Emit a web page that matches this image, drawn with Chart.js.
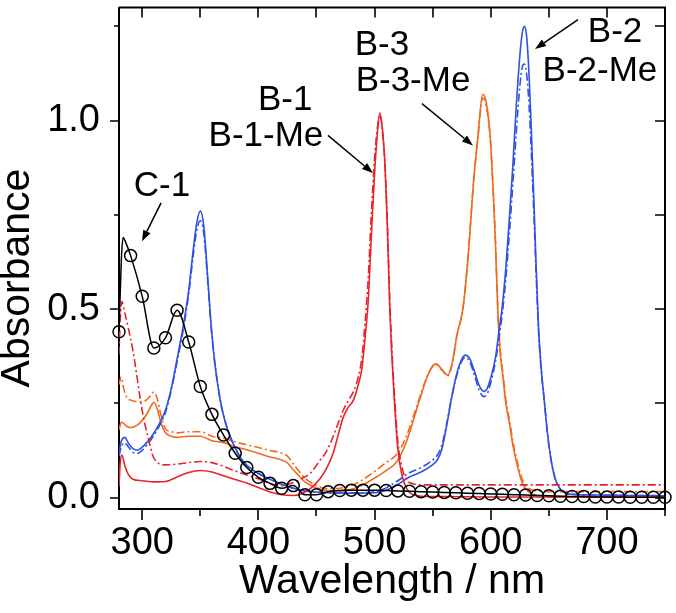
<!DOCTYPE html>
<html>
<head>
<meta charset="utf-8">
<script src="https://cdn.jsdelivr.net/npm/chart.js@4/dist/chart.umd.min.js"></script>
<style>
  html, body { margin: 0; padding: 0; background: #fff; }
  #c { display: block; }
</style>
</head>
<body>
<canvas id="c" width="676" height="613"></canvas>
<script>
"use strict";

// C-1 (open circles every 10 nm)
const wlC1 = [280, 282, 283.5, 286, 290, 300, 310, 320, 330, 340,
  350, 360, 370, 380, 390, 400, 410, 420, 430, 440,
  450, 460, 470, 480, 490, 500, 510, 520, 530, 540,
  550, 560, 570, 580, 590, 600, 610, 620, 630, 640,
  650, 660, 670, 680, 690, 700, 710, 720, 730, 740, 750];
const absC1 = [0.44, 0.63, 0.69, 0.675, 0.642, 0.534, 0.397, 0.424, 0.497, 0.413,
  0.295, 0.221, 0.166, 0.118, 0.08, 0.054, 0.038, 0.025, 0.032, 0.008,
  0.008, 0.016, 0.019, 0.02, 0.02, 0.02, 0.019, 0.018, 0.017, 0.016,
  0.015, 0.014, 0.013, 0.012, 0.011, 0.010, 0.009, 0.008, 0.007, 0.006,
  0.005, 0.004, 0.003, 0.003, 0.002, 0.002, 0.002, 0.001, 0.001, 0.001, 0.001];

// B-1 / B-1-Me (red)
const wlB1 = [280, 281, 282.5, 285, 288, 292, 300, 305, 310, 320,
  330, 340, 350, 360, 370, 380, 390, 400, 410, 420,
  430, 437, 445, 453, 459, 464, 469, 473, 477, 482,
  486, 489, 492, 494.5, 497, 500, 502, 504.5, 507, 509,
  511, 513, 515, 517, 520, 524, 528, 533, 540, 560,
  600, 650, 700, 750];
const absB1 = [0.03, 0.09, 0.113, 0.085, 0.062, 0.049, 0.045, 0.043, 0.042, 0.043,
  0.055, 0.067, 0.072, 0.068, 0.058, 0.048, 0.039, 0.027, 0.015, 0.008,
  0.006, 0.01, 0.025, 0.05, 0.08, 0.115, 0.17, 0.213, 0.238, 0.26,
  0.30, 0.34, 0.43, 0.52, 0.68, 0.86, 0.95, 1.02, 0.97, 0.88,
  0.72, 0.51, 0.37, 0.26, 0.13, 0.055, 0.022, 0.008, 0.004, 0.003,
  0.002, 0.002, 0.001, 0.001];
const absB1Me = [0.38, 0.47, 0.52, 0.49, 0.45, 0.39, 0.23, 0.16, 0.105, 0.087,
  0.089, 0.093, 0.096, 0.093, 0.083, 0.071, 0.06, 0.05, 0.038, 0.032,
  0.04, 0.05, 0.066, 0.099, 0.125, 0.16, 0.2, 0.232, 0.255, 0.283,
  0.32, 0.37, 0.47, 0.58, 0.74, 0.9, 0.97, 1.015, 0.965, 0.88,
  0.73, 0.53, 0.39, 0.28, 0.15, 0.075, 0.046, 0.037, 0.034, 0.034,
  0.034, 0.034, 0.034, 0.034];

// B-2 / B-2-Me (blue)
const wlB2 = [280, 282, 285, 288, 292, 296, 300, 305, 310, 315,
  320, 325, 330, 335, 340, 344, 347, 350, 353, 356,
  359, 362, 365, 368, 372, 376, 380, 385, 390, 395,
  400, 407, 415, 421, 430, 440, 450, 460, 480, 500,
  510, 520, 530, 540, 548, 554, 558, 562, 566, 570,
  574, 578, 582, 586, 590, 594, 597, 600, 604, 607,
  610, 613, 616, 619, 622, 625, 627, 629, 631, 633,
  635, 637, 639, 641, 643, 646, 650, 655, 660, 665,
  670, 690, 720, 750];
const absB2 = [0.12, 0.15, 0.16, 0.145, 0.13, 0.126, 0.134, 0.15, 0.171, 0.198,
  0.232, 0.29, 0.368, 0.45, 0.55, 0.66, 0.73, 0.76, 0.72, 0.60,
  0.47, 0.37, 0.30, 0.245, 0.195, 0.16, 0.132, 0.104, 0.086, 0.074,
  0.064, 0.053, 0.042, 0.034, 0.025, 0.018, 0.015, 0.013, 0.012, 0.013,
  0.02, 0.035, 0.055, 0.068, 0.083, 0.10, 0.13, 0.19, 0.26, 0.32,
  0.36, 0.378, 0.368, 0.335, 0.298, 0.282, 0.29, 0.318, 0.37, 0.44,
  0.51, 0.61, 0.74, 0.88, 1.04, 1.17, 1.23, 1.25, 1.22, 1.12,
  0.97, 0.80, 0.62, 0.46, 0.36, 0.26, 0.14, 0.055, 0.022, 0.012,
  0.009, 0.007, 0.006, 0.005];
const absB2Me = [0.11, 0.135, 0.145, 0.135, 0.12, 0.118, 0.126, 0.143, 0.165, 0.192,
  0.226, 0.285, 0.36, 0.44, 0.54, 0.645, 0.71, 0.735, 0.70, 0.59,
  0.465, 0.37, 0.30, 0.245, 0.196, 0.16, 0.132, 0.104, 0.086, 0.074,
  0.064, 0.053, 0.042, 0.034, 0.025, 0.018, 0.015, 0.013, 0.013, 0.016,
  0.026, 0.045, 0.066, 0.08, 0.095, 0.113, 0.14, 0.195, 0.26, 0.315,
  0.355, 0.372, 0.36, 0.325, 0.285, 0.268, 0.276, 0.305, 0.36, 0.42,
  0.49, 0.58, 0.70, 0.83, 0.97, 1.09, 1.14, 1.15, 1.12, 1.04,
  0.91, 0.76, 0.60, 0.45, 0.355, 0.26, 0.14, 0.055, 0.022, 0.012,
  0.009, 0.007, 0.006, 0.005];

// B-3 / B-3-Me (orange)
const wlB3 = [280, 282, 284, 287, 291, 296, 300, 304, 307, 310,
  313, 316, 320, 325, 330, 340, 350, 360, 370, 380,
  390, 400, 410, 420, 425, 430, 435, 440, 450, 460,
  470, 480, 490, 500, 510, 519, 527, 536, 545, 550,
  553, 558, 563, 567, 571, 576, 580, 582, 585, 589,
  593, 596, 599.5, 602, 604, 606, 608, 610.5, 613, 616.5,
  619, 622.5, 627, 633, 640, 660, 700, 750];
const absB3 = [0.18, 0.2, 0.197, 0.188, 0.186, 0.193, 0.205, 0.222, 0.24, 0.253,
  0.235, 0.2, 0.172, 0.163, 0.16, 0.163, 0.163, 0.151, 0.146, 0.135,
  0.127, 0.118, 0.108, 0.1, 0.092, 0.074, 0.058, 0.042, 0.026, 0.019,
  0.018, 0.022, 0.034, 0.052, 0.072, 0.095, 0.145, 0.232, 0.318, 0.35,
  0.355, 0.34, 0.325, 0.36, 0.434, 0.50, 0.62, 0.70, 0.83, 0.96,
  1.07, 1.05, 0.96, 0.82, 0.68, 0.50, 0.39, 0.32, 0.25, 0.19,
  0.14, 0.09, 0.04, 0.014, 0.006, 0.003, 0.002, 0.002];
const absB3Me = [0.30, 0.32, 0.29, 0.265, 0.258, 0.255, 0.255, 0.26, 0.27, 0.28,
  0.262, 0.22, 0.183, 0.175, 0.172, 0.175, 0.175, 0.163, 0.158, 0.148,
  0.14, 0.133, 0.125, 0.118, 0.11, 0.09, 0.07, 0.052, 0.032, 0.024,
  0.025, 0.032, 0.048, 0.07, 0.093, 0.115, 0.16, 0.24, 0.32, 0.348,
  0.352, 0.338, 0.323, 0.357, 0.43, 0.50, 0.62, 0.70, 0.83, 0.955,
  1.06, 1.04, 0.955, 0.82, 0.685, 0.51, 0.40, 0.33, 0.26, 0.2,
  0.15, 0.10, 0.05, 0.025, 0.018, 0.016, 0.016, 0.016];

const RED = "#e8232b", ORANGE = "#f26a22", BLUE = "#2f50e4";
const FONT = '"Liberation Sans", Arial, sans-serif';
const DASHDOT = [8, 3, 2, 3];

// labels and arrows, in data units (nm, absorbance)
const NOTES = [
  { text: "C-1", x: 317, y: 0.827 },
  { text: "B-1", x: 423, y: 1.053 },
  { text: "B-1-Me", x: 406.5, y: 0.958 },
  { text: "B-3", x: 506.4, y: 1.200 },
  { text: "B-3-Me", x: 533.1, y: 1.105 },
  { text: "B-2", x: 707, y: 1.234 },
  { text: "B-2-Me", x: 694, y: 1.132 },
];
const ARROWS = [
  { from: [316.2, 0.782], to: [299.8, 0.680] },
  { from: [459.9, 0.961], to: [498.6, 0.861] },
  { from: [540.8, 1.045], to: [584.7, 0.934] },
  { from: [675.1, 1.268], to: [638.1, 1.190] },
];

const pts = (xs, ys) => xs.map((x, i) => ({ x: x, y: ys[i] }));

function line(label, xs, ys, color, dashed, order) {
  return {
    label: label, data: pts(xs, ys), borderColor: color, borderWidth: 1.6,
    borderDash: dashed ? DASHDOT : [], pointRadius: 0, fill: false,
    cubicInterpolationMode: "monotone", order: order,
  };
}

const frame = {
  id: "frame",
  afterDraw(chart) {
    const { ctx, chartArea: a, scales: { x, y } } = chart;
    ctx.save();
    ctx.strokeStyle = "#000";
    ctx.lineWidth = 2;
    ctx.beginPath();
    ctx.moveTo(a.left, a.top); ctx.lineTo(a.right, a.top); ctx.lineTo(a.right, a.bottom);
    ctx.stroke();

    ctx.lineWidth = 1.6;
    ctx.beginPath();
    x.ticks.forEach((t) => {
      const px = Math.round(x.getPixelForValue(t.value));
      const major = t.value % 100 === 0;
      ctx.moveTo(px, a.bottom); ctx.lineTo(px, a.bottom + (major ? 11 : 7));
      if (t.value < 750) { ctx.moveTo(px, a.top); ctx.lineTo(px, a.top + 10); }
    });
    y.ticks.forEach((t) => {
      const py = Math.round(y.getPixelForValue(t.value));
      const major = Math.abs(t.value * 2 - Math.round(t.value * 2)) < 1e-6;
      ctx.moveTo(a.left, py); ctx.lineTo(a.left - (major ? 9 : 5), py);
      ctx.moveTo(a.right, py); ctx.lineTo(a.right - 10, py);
    });
    ctx.stroke();

    // y title, sits a little below the axis centre like the original
    ctx.fillStyle = "#000";
    ctx.font = "41px " + FONT;
    ctx.textAlign = "center";
    ctx.textBaseline = "middle";
    ctx.save();
    ctx.translate(18, 278);
    ctx.rotate(-Math.PI / 2);
    ctx.fillText("Absorbance", 0, 0);
    ctx.restore();

    ctx.font = "35px " + FONT;
    NOTES.forEach((n) => ctx.fillText(n.text, x.getPixelForValue(n.x), y.getPixelForValue(n.y)));

    ctx.lineWidth = 1.5;
    ARROWS.forEach((ar) => {
      const x0 = x.getPixelForValue(ar.from[0]), y0 = y.getPixelForValue(ar.from[1]);
      const x1 = x.getPixelForValue(ar.to[0]), y1 = y.getPixelForValue(ar.to[1]);
      const ang = Math.atan2(y1 - y0, x1 - x0);
      const L = 11, W = 4;
      const bx = x1 - L * Math.cos(ang), by = y1 - L * Math.sin(ang);
      ctx.beginPath(); ctx.moveTo(x0, y0); ctx.lineTo(bx, by); ctx.stroke();
      ctx.beginPath();
      ctx.moveTo(x1, y1);
      ctx.lineTo(bx + W * Math.sin(ang), by - W * Math.cos(ang));
      ctx.lineTo(bx - W * Math.sin(ang), by + W * Math.cos(ang));
      ctx.closePath(); ctx.fill();
    });
    ctx.restore();
  },
};

Chart.defaults.font.family = FONT;
Chart.defaults.color = "#000";

new Chart(document.getElementById("c"), {
  type: "line",
  data: {
    datasets: [
      {
        label: "C-1", data: pts(wlC1, absC1), borderColor: "#000", borderWidth: 1.5,
        pointRadius: (c) => (c.raw && c.raw.x % 10 === 0 ? 6 : 0),
        pointBorderColor: "#000", pointBackgroundColor: "rgba(0,0,0,0)", pointBorderWidth: 1.5,
        cubicInterpolationMode: "monotone", clip: false, order: 0,
      },
      line("B-1", wlB1, absB1, RED, false, 1),
      line("B-1-Me", wlB1, absB1Me, RED, true, 2),
      line("B-2", wlB2, absB2, BLUE, false, 3),
      line("B-2-Me", wlB2, absB2Me, BLUE, true, 4),
      line("B-3", wlB3, absB3, ORANGE, false, 5),
      line("B-3-Me", wlB3, absB3Me, ORANGE, true, 6),
    ],
  },
  options: {
    responsive: false,
    animation: false,
    devicePixelRatio: 1,
    layout: { padding: { left: 0, right: 11, top: 3, bottom: 0 } },
    plugins: { legend: { display: false }, tooltip: { enabled: false } },
    scales: {
      x: {
        type: "linear", min: 280, max: 750,
        afterFit: (s) => { s.height = 104; s.paddingLeft = 0; s.paddingRight = 0; },
        grid: { display: false, drawTicks: false },
        border: { display: true, color: "#000", width: 2 },
        ticks: {
          stepSize: 50, includeBounds: false, autoSkip: false, maxRotation: 0,
          padding: 16, color: "#000", font: { size: 38, lineHeight: 1 },
          callback: (v) => (v % 100 === 0 ? String(v) : ""),
        },
        title: {
          display: true, text: "Wavelength / nm", color: "#000",
          font: { size: 41, lineHeight: 1 }, padding: { top: 0, bottom: 11 },
        },
      },
      y: {
        type: "linear", min: -0.03, max: 1.3,
        afterFit: (s) => { s.width = 119; s.paddingTop = 0; s.paddingBottom = 0; },
        grid: { display: false, drawTicks: false },
        border: { display: true, color: "#000", width: 2 },
        ticks: {
          stepSize: 0.25, includeBounds: false, autoSkip: false,
          padding: 19, color: "#000", font: { size: 38, lineHeight: 1 },
          callback: (v) => (Math.abs(v * 2 - Math.round(v * 2)) < 1e-6 ? v.toFixed(1) : ""),
        },
      },
    },
  },
  plugins: [frame],
});
</script>
</body>
</html>
